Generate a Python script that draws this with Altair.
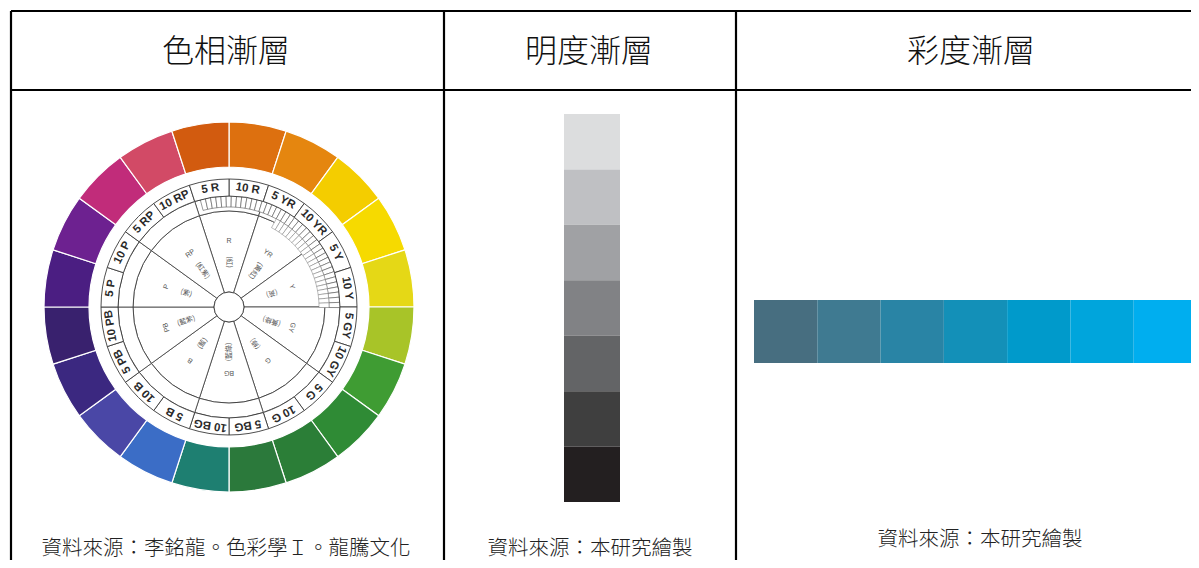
import math
import altair as alt
import pandas as pd

# ---------------- data ----------------
header_titles = ["色相漸層", "明度漸層", "彩度漸層"]
source_notes = ["資料來源：李銘龍。色彩學Ｉ。龍騰文化", "資料來源：本研究繪製", "資料來源：本研究繪製"]

# 20 hue segments, clockwise from 12 o'clock
hue_ring_colors = ["#DD700F", "#E5860F", "#F4CD00", "#F6DA00", "#E5D816",
                   "#A8C428", "#3F9C33", "#2F8B35", "#2B7E37", "#2B793B",
                   "#1E7F71", "#3B6DC6", "#4A47A6", "#3B2880", "#39216E",
                   "#4B1E82", "#6D2190", "#C12C7A", "#D24A66", "#D25B0F"]
hue_ring_labels = ["10 R", "5 YR", "10 YR", "5 Y", "10 Y",
                   "5 GY", "10 GY", "5 G", "10 G", "5 BG",
                   "10 BG", "5 B", "10 B", "5 PB", "10 PB",
                   "5 P", "10 P", "5 RP", "10 RP", "5 R"]
major_hue_codes = ["R", "YR", "Y", "GY", "G", "BG", "B", "PB", "P", "RP"]
major_hue_names = ["(紅)", "(黃紅)", "(黃)", "(黃綠)", "(綠)", "(藍綠)", "(藍)", "(藍紫)", "(紫)", "(紅紫)"]

value_steps = ["#DCDDDE", "#BFC0C3", "#A0A1A4", "#818285", "#636466", "#3F3F3F", "#231F20"]
chroma_steps = ["#476E80", "#3F7A91", "#2984A5", "#1390B8", "#009ACB", "#00A5DC", "#00AEEF"]

# ---------------- layout (page pixels) ----------------
PAGE_W, PAGE_H, M = 1199, 568, 8
W, H = PAGE_W - 2 * M, PAGE_H - 2 * M
col_edges = [11, 444, 736]
top_y, head_bottom = 11, 90
head_x = [226, 589, 971]
head_y = 52
note_x = [226, 590, 980]
note_y = [549, 549, 540]

CX, CY = 229, 307
R_OUT, R_IN = 185, 140
R_LAB_OUT, R_LAB_IN = 128, 111
R_TICK_IN = 96
R_HUB = 15

gray_x0, gray_x1, gray_y0, gray_y1 = 564, 620, 114, 502
blue_x0, blue_x1, blue_y0, blue_y1 = 754, 1197, 300, 363

CJK = "Noto Sans CJK TC"
LAT = "Liberation Sans"

xs = alt.Scale(domain=[M, PAGE_W - M], nice=False, zero=False)
ys = alt.Scale(domain=[M, PAGE_H - M], nice=False, zero=False, reverse=True)
ts = alt.Scale(domain=[0, 360], range=[0, 2 * math.pi], nice=False, zero=False)
rs = alt.Scale(type="linear", domain=[0, 200], range=[0, 200], nice=False, zero=True)


def polar(theta_deg, r):
    a = math.radians(theta_deg)
    return CX + r * math.sin(a), CY - r * math.cos(a)


def arc_chart(df, **mark):
    enc = dict(
        x=alt.X("cx:Q", scale=xs, axis=None),
        y=alt.Y("cy:Q", scale=ys, axis=None),
        theta=alt.Theta("t0:Q", scale=ts, stack=False),
        theta2=alt.Theta2("t1:Q"),
        radius=alt.Radius("r1:Q", scale=rs),
        radius2=alt.Radius2("r0:Q"),
    )
    if "color" in df.columns:
        enc["color"] = alt.Color("color:N", scale=None, legend=None)
    return alt.Chart(df).mark_arc(**mark).encode(**enc)


# ---- table lines ----
rule_rows = []
for x in col_edges:
    rule_rows.append(dict(x=x, x2=x, y=top_y, y2=PAGE_H))
for y in (top_y, head_bottom):
    rule_rows.append(dict(x=col_edges[0], x2=PAGE_W, y=y, y2=y))
rules = alt.Chart(pd.DataFrame(rule_rows)).mark_rule(color="black", strokeWidth=2.2).encode(
    x=alt.X("x:Q", scale=xs, axis=None), x2="x2:Q",
    y=alt.Y("y:Q", scale=ys, axis=None), y2="y2:Q")

# ---- headers & notes ----
heads = alt.Chart(pd.DataFrame({"t": header_titles, "x": head_x, "y": [head_y] * 3})).mark_text(
    font=CJK, fontSize=32, fontWeight=300, color="#111", align="center", baseline="middle").encode(
    x=alt.X("x:Q", scale=xs, axis=None), y=alt.Y("y:Q", scale=ys, axis=None), text="t:N")
notes = alt.Chart(pd.DataFrame({"t": source_notes, "x": note_x, "y": note_y})).mark_text(
    font=CJK, fontSize=20.5, fontWeight=300, color="#222", align="center", baseline="middle").encode(
    x=alt.X("x:Q", scale=xs, axis=None), y=alt.Y("y:Q", scale=ys, axis=None), text="t:N")

# ---- hue wheel ----
n = len(hue_ring_colors)
stp = 360 / n
ring = pd.DataFrame({"color": hue_ring_colors, "label": hue_ring_labels})
ring["t0"] = [i * stp for i in range(n)]
ring["t1"] = ring["t0"] + stp
ring["cx"], ring["cy"] = CX, CY
ring_out = ring.assign(r0=R_IN, r1=R_OUT)
ring_lab = ring.drop(columns=["color"]).assign(r0=R_LAB_IN, r1=R_LAB_OUT)

mid = ring["t0"] + stp / 2
lab_r = (R_LAB_IN + R_LAB_OUT) / 2
lab_txt = pd.DataFrame({
    "t": hue_ring_labels,
    "x": [polar(a, lab_r)[0] for a in mid],
    "y": [polar(a, lab_r)[1] for a in mid],
    "ang": [a % 360 for a in mid],
})

k = len(major_hue_codes)
mstp = 360 / k
inner = pd.DataFrame({"code": major_hue_codes})
inner["t0"] = [i * mstp - mstp / 2 for i in range(k)]
inner["t1"] = inner["t0"] + mstp
inner["cx"], inner["cy"] = CX, CY
inner_sec = inner.assign(r0=R_HUB, r1=R_TICK_IN)
tick_sec = inner.assign(r0=R_TICK_IN, r1=R_LAB_IN)
hub = pd.DataFrame({"t0": [0], "t1": [360], "r0": [0], "r1": [R_HUB], "cx": [CX], "cy": [CY]})

# fine tick cells (5 R .. 10 Y)
cell_t = []
a = -15.0
while a < 88:
    cell_t.append(a)
    a += 2.7
cells = pd.DataFrame({"t0": cell_t})
cells["t1"] = cells["t0"] + 2.7
cells["cx"], cells["cy"], cells["r0"], cells["r1"] = CX, CY, 100, R_LAB_IN
cells2 = cells[(cells["t0"] > 28)].copy()
cells2["r0"], cells2["r1"] = 90, 100

code_txt = pd.DataFrame({
    "t": major_hue_codes,
    "x": [polar(i * mstp, 66)[0] for i in range(k)],
    "y": [polar(i * mstp, 66)[1] for i in range(k)],
    "ang": [(i * mstp) % 360 for i in range(k)],
})
name_txt = pd.DataFrame({
    "t": major_hue_names,
    "x": [polar(i * mstp, 45)[0] for i in range(k)],
    "y": [polar(i * mstp, 45)[1] for i in range(k)],
    "ang": [(i * mstp + 90) % 360 for i in range(k)],
})


def text_layer(df, **mark):
    return alt.Chart(df).mark_text(align="center", baseline="middle", **mark).encode(
        x=alt.X("x:Q", scale=xs, axis=None), y=alt.Y("y:Q", scale=ys, axis=None),
        text="t:N", angle=alt.Angle("ang:Q", scale=None))


wheel = [
    arc_chart(ring_out, stroke="white", strokeWidth=1.2),
    arc_chart(inner_sec, fill="white", stroke="#3a3a3a", strokeWidth=0.8),
    arc_chart(tick_sec, fill="white", stroke="#3a3a3a", strokeWidth=0.8),
    arc_chart(cells, fill="white", stroke="#555", strokeWidth=0.6),
    arc_chart(cells2, fill="white", stroke="#777", strokeWidth=0.5),
    arc_chart(ring_lab, fill="white", stroke="#3a3a3a", strokeWidth=0.9),
    arc_chart(hub, fill="white", stroke="#3a3a3a", strokeWidth=0.9),
    text_layer(lab_txt, font=LAT, fontSize=11.5, fontWeight="bold", color="#2a2a2a"),
    text_layer(code_txt, font=LAT, fontSize=7, color="#555"),
    text_layer(name_txt, font=CJK, fontSize=7, color="#555"),
]

# ---- value (lightness) strip ----
nv = len(value_steps)
gh = (gray_y1 - gray_y0) / nv
gray = pd.DataFrame({"color": value_steps})
gray["x"], gray["x2"] = gray_x0, gray_x1
gray["y"] = [gray_y0 + i * gh for i in range(nv)]
gray["y2"] = gray["y"] + gh
# ---- chroma strip ----
nc = len(chroma_steps)
bw = (blue_x1 - blue_x0) / nc
blue = pd.DataFrame({"color": chroma_steps})
blue["x"] = [blue_x0 + i * bw for i in range(nc)]
blue["x2"] = blue["x"] + bw
blue["y"], blue["y2"] = blue_y0, blue_y1
strips = alt.Chart(pd.concat([gray, blue], ignore_index=True)).mark_rect().encode(
    x=alt.X("x:Q", scale=xs, axis=None), x2="x2:Q",
    y=alt.Y("y:Q", scale=ys, axis=None), y2="y2:Q",
    color=alt.Color("color:N", scale=None, legend=None))

chart = alt.layer(*wheel, strips, rules, heads, notes).properties(
    width=W, height=H, padding=0,
    autosize=alt.AutoSizeParams(type="none"),
    background="white",
).configure_view(stroke=None)

chart.save("out.html", embed_options={"renderer": "svg", "actions": False})
